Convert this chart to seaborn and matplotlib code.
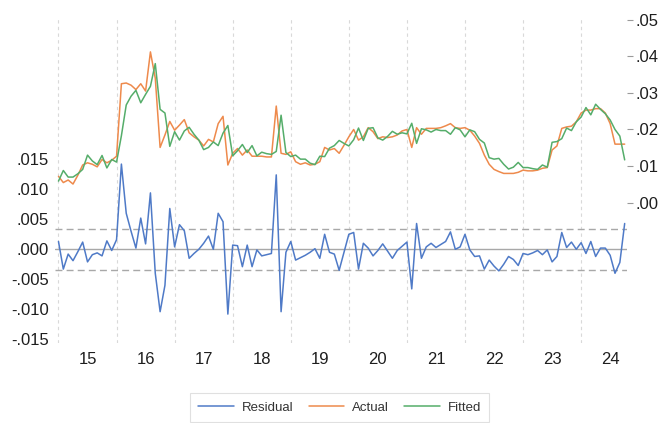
import numpy as np
import pandas as pd
import matplotlib
matplotlib.use("Agg")
import matplotlib.pyplot as plt
from matplotlib.lines import Line2D
import seaborn as sns

# Monthly sample 2015M01 onwards
start = "2015-01"

actual = [
    0.0072, 0.0055, 0.0062, 0.0051, 0.0075, 0.0103, 0.0109, 0.0105, 0.0098, 0.0118,
    0.0109, 0.0116, 0.0127, 0.0325, 0.0327, 0.0321, 0.0309, 0.0325, 0.0305, 0.0412,
    0.0340, 0.0151, 0.0185, 0.0222, 0.0198, 0.0212, 0.0227, 0.0191, 0.0180, 0.0171,
    0.0155, 0.0173, 0.0166, 0.0216, 0.0236, 0.0103, 0.0135, 0.0148, 0.0130, 0.0144,
    0.0127, 0.0127, 0.0127, 0.0125, 0.0125, 0.0264, 0.0135, 0.0132, 0.0139, 0.0112,
    0.0105, 0.0109, 0.0103, 0.0105, 0.0112, 0.0151, 0.0144, 0.0148, 0.0135, 0.0157,
    0.0180, 0.0200, 0.0171, 0.0180, 0.0205, 0.0194, 0.0175, 0.0180, 0.0178, 0.0180,
    0.0185, 0.0196, 0.0200, 0.0151, 0.0205, 0.0187, 0.0203, 0.0203, 0.0203, 0.0205,
    0.0210, 0.0216, 0.0205, 0.0203, 0.0205, 0.0198, 0.0182, 0.0162, 0.0130, 0.0105,
    0.0091, 0.0085, 0.0080, 0.0080, 0.0080, 0.0083, 0.0089, 0.0087, 0.0087, 0.0089,
    0.0094, 0.0096, 0.0144, 0.0155, 0.0203, 0.0207, 0.0209, 0.0221, 0.0245, 0.0253,
    0.0253, 0.0257, 0.0257, 0.0245, 0.0216, 0.0160, 0.0160, 0.0160,
]

residual = [
    0.0013, -0.0033, -0.0008, -0.0019, -0.0004, 0.0012, -0.0021, -0.0009, -0.0006, -0.0011,
    0.0014, -0.0002, 0.0016, 0.0142, 0.0060, 0.0030, 0.0002, 0.0052, 0.0009, 0.0094,
    -0.0040, -0.0104, -0.0060, 0.0068, 0.0004, 0.0041, 0.0031, -0.0015, -0.0007, 0.0000,
    0.0010, 0.0022, 0.0000, 0.0060, 0.0046, -0.0108, 0.0007, 0.0006, -0.0029, 0.0007,
    -0.0029, -0.0001, -0.0011, -0.0009, -0.0007, 0.0124, -0.0104, -0.0005, 0.0013, -0.0018,
    -0.0014, -0.0010, -0.0005, 0.0001, -0.0015, 0.0025, -0.0005, -0.0008, -0.0035, -0.0005,
    0.0025, 0.0028, -0.0033, 0.0010, 0.0002, -0.0011, -0.0002, 0.0009, -0.0003, -0.0015,
    -0.0002, 0.0005, 0.0012, -0.0066, 0.0043, -0.0015, 0.0004, 0.0010, 0.0003, 0.0008,
    0.0013, 0.0029, 0.0000, 0.0004, 0.0025, -0.0001, -0.0012, -0.0011, -0.0033, -0.0018,
    -0.0028, -0.0036, -0.0025, -0.0012, -0.0017, -0.0027, -0.0007, -0.0009, -0.0006, -0.0002,
    -0.0009, -0.0001, -0.0021, -0.0012, 0.0028, 0.0003, 0.0012, 0.0000, 0.0011, -0.0007,
    0.0013, -0.0012, 0.0002, 0.0002, -0.0010, -0.0040, -0.0022, 0.0043,
]

years = list(range(2015, 2025))
year_labels = ["15", "16", "17", "18", "19", "20", "21", "22", "23", "24"]
resid_ticks = [-0.015, -0.010, -0.005, 0.0, 0.005, 0.010, 0.015]
level_ticks = [0.00, 0.01, 0.02, 0.03, 0.04, 0.05]
std_err = 0.0034  # +/- one standard error band for the residual

series_names = ["Residual", "Actual", "Fitted"]
colors = {"Residual": "#4f7ac7", "Actual": "#ee8a4c", "Fitted": "#55ad6a"}

# ---- data frame -------------------------------------------------------
dates = pd.date_range(start, periods=len(actual), freq="MS")
df = pd.DataFrame({
    "t": dates.year + (dates.month - 1) / 12.0,
    "Actual": actual,
    "Residual": residual,
})
# fitted values: actual minus residual
df["Fitted"] = (df["Actual"] - df["Residual"]).round(4)
levels = df.melt(id_vars="t", value_vars=["Actual", "Fitted"],
                 var_name="series", value_name="value")

# ---- figure -------------------------------------------------------------
sns.set_theme(style="white")
plt.rcParams["font.family"] = ["Liberation Sans", "DejaVu Sans"]

W, H = 662, 423
fig, ax = plt.subplots(figsize=(W / 100, H / 100), dpi=100)
fig.subplots_adjust(left=55 / W, right=627 / W, top=1 - 18 / H, bottom=1 - 343 / H)
ax2 = ax.twinx()

# residual reference lines
ax.axhline(0, color="#a8a8a8", lw=1.0, zorder=1)
for s in (std_err, -std_err):
    ax.axhline(s, color="#a8a8a8", lw=1.0, ls=(0, (5, 3)), zorder=1)

sns.lineplot(data=df, x="t", y="Residual", ax=ax, color=colors["Residual"],
             lw=1.1, zorder=3)
sns.lineplot(data=levels, x="t", y="value", hue="series",
             palette={k: colors[k] for k in ["Actual", "Fitted"]},
             ax=ax2, lw=1.1, legend=False)

# ---- axes --------------------------------------------------------------
ax.set_xlim(2014.94, 2024.79)
ax.set_ylim(-0.01562, 0.03855)
ax2.set_ylim(-0.03833, 0.05046)

ax.set_xticks(years)
ax.set_xticklabels([])
ax.set_xticks([y + 0.5 for y in years], minor=True)
ax.set_xticklabels(year_labels, minor=True)
ax.grid(axis="x", which="major", color="#d9d9d9", lw=0.8, ls=(0, (3, 3)))
ax.grid(axis="x", which="minor", visible=False)
ax.grid(axis="y", visible=False)
ax2.grid(False)

ax.set_yticks(resid_ticks)
ax.set_yticklabels([f"{v:.3f}".replace("0.", ".") for v in resid_ticks])
ax2.set_yticks(level_ticks)
ax2.set_yticklabels([f"{v:.2f}".replace("0.", ".") for v in level_ticks])

txt = "#1e1e1e"
ax.tick_params(axis="x", which="both", length=0, pad=6.5, labelsize=12, labelcolor=txt)
ax.tick_params(axis="y", length=0, pad=4.5, labelsize=12, labelcolor=txt)
ax2.tick_params(axis="y", length=4, width=0.8, color="#9a9a9a", pad=2,
                labelsize=12, labelcolor=txt)

for a in (ax, ax2):
    a.set_xlabel("")
    a.set_ylabel("")
    for sp in a.spines.values():
        sp.set_visible(False)

# ---- legend ------------------------------------------------------------
handles = [Line2D([], [], color=colors[n], lw=1.1) for n in series_names]
leg = fig.legend(handles, series_names, loc="center",
                 bbox_to_anchor=(339.7 / W, 1 - 407.5 / H), ncol=3,
                 frameon=True, fancybox=False, edgecolor="#d9d9d9",
                 fontsize=9.5, handlelength=2.7, handletextpad=0.6,
                 columnspacing=1.15, borderpad=0.6)
leg.get_frame().set_linewidth(0.8)
for t in leg.get_texts():
    t.set_color("#333333")

fig.savefig("out.png", dpi=100)
